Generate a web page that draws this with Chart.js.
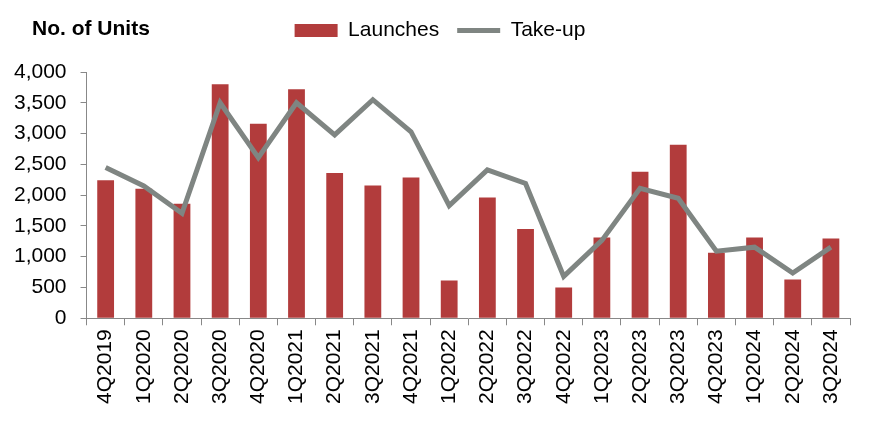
<!DOCTYPE html>
<html>
<head>
<meta charset="utf-8">
<script src="https://cdn.jsdelivr.net/npm/chart.js@4/dist/chart.umd.min.js"></script>
<style>
  html, body { margin: 0; padding: 0; background: #fff; }
  #wrap { position: relative; width: 894px; height: 447px; }
  #title { position: absolute; left: 32px; top: 16px; font: bold 21px "Liberation Sans", Arial, sans-serif; color: #000; }
</style>
</head>
<body>
<div id="wrap">
  <canvas id="c" width="894" height="447"></canvas>
  <div id="title">No. of Units</div>
</div>
<script>
const categories = ['4Q2019','1Q2020','2Q2020','3Q2020','4Q2020','1Q2021','2Q2021','3Q2021','4Q2021','1Q2022','2Q2022','3Q2022','4Q2022','1Q2023','2Q2023','3Q2023','4Q2023','1Q2024','2Q2024','3Q2024'];
const launches = [2240, 2105, 1860, 3800, 3160, 3720, 2360, 2155, 2285, 615, 1960, 1450, 500, 1310, 2380, 2820, 1065, 1310, 630, 1295];
const takeUp = [2450, 2150, 1705, 3500, 2610, 3500, 2980, 3550, 3030, 1830, 2410, 2190, 680, 1265, 2110, 1950, 1090, 1155, 735, 1155];
const yTicks = [0, 500, 1000, 1500, 2000, 2500, 3000, 3500, 4000];

const FONT = '"Liberation Sans", Arial, sans-serif';
const BAR = '#B23C3C';
const LINE = '#7F8582';
const AXIS = '#888888';

const legendGap = {
  id: 'legendGap',
  beforeInit(chart) {
    const orig = chart.legend.fit;
    chart.legend.fit = function () {
      orig.call(this);
      this.height += 21;
    };
  }
};

new Chart(document.getElementById('c'), {
  data: {
    labels: categories,
    datasets: [
      { type: 'bar', label: 'Launches', data: launches, backgroundColor: BAR, borderWidth: 0,
        categoryPercentage: 1.0, barPercentage: 0.44, order: 2 },
      { type: 'line', label: 'Take-up', data: takeUp, borderColor: LINE, backgroundColor: LINE,
        borderWidth: 5, pointRadius: 0, tension: 0, order: 1 }
    ]
  },
  plugins: [legendGap],
  options: {
    responsive: false,
    animation: false,
    layout: { padding: { left: 0, right: 14, top: 2, bottom: 39 } },
    plugins: {
      tooltip: { enabled: false },
      legend: {
        position: 'top',
        labels: {
          font: { family: FONT, size: 21 },
          color: '#000',
          usePointStyle: true,
          pointStyleWidth: 43,
          boxHeight: 13,
          padding: 18,
          generateLabels: (chart) => [
            { text: 'Launches', fillStyle: BAR, strokeStyle: BAR, lineWidth: 0, pointStyle: 'rect', datasetIndex: 0 },
            { text: 'Take-up', fillStyle: LINE, strokeStyle: LINE, lineWidth: 5, pointStyle: 'line', datasetIndex: 1 }
          ]
        }
      }
    },
    scales: {
      x: {
        offset: true,
        grid: { display: true, drawOnChartArea: false, drawTicks: true, tickLength: 7, color: AXIS, offset: true },
        border: { display: true, color: AXIS, width: 1 },
        ticks: { font: { family: FONT, size: 21 }, color: '#000', minRotation: 90, maxRotation: 90, autoSkip: false, padding: 4 }
      },
      y: {
        min: 0, max: 4000,
        afterBuildTicks: (axis) => { axis.ticks = yTicks.map(v => ({ value: v })); },
        grid: { display: true, drawOnChartArea: false, drawTicks: true, tickLength: 6, color: AXIS },
        border: { display: true, color: AXIS, width: 1 },
        ticks: { font: { family: FONT, size: 21 }, color: '#000', padding: 14,
          callback: (v) => Number(v).toLocaleString('en-US') }
      },
      ySpacer: {
        position: 'right',
        min: 0, max: 4000,
        grid: { display: false },
        border: { display: false },
        ticks: { display: false },
        afterFit: (axis) => { axis.width = 30; }
      }
    }
  }
});
</script>
</body>
</html>
